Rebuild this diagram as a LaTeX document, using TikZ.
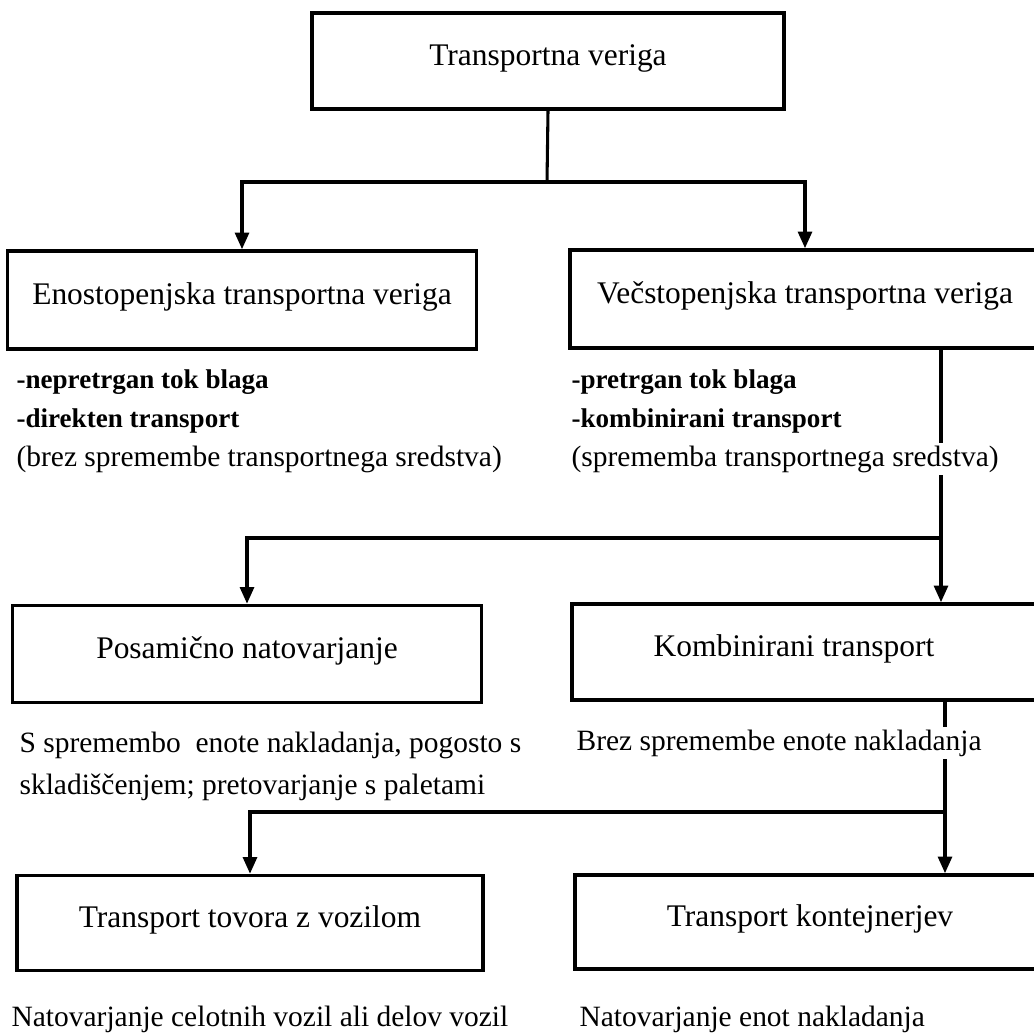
\documentclass[tikz,border=0pt]{standalone}
\usepackage{fontspec}
\setmainfont{Liberation Serif}
\usetikzlibrary{arrows.meta}
\begin{document}
\begin{tikzpicture}[x=0.75pt,y=-0.75pt,
  box/.style={draw, line width=2.7pt, inner sep=0pt,
    font=\fontsize{23.6}{28}\selectfont, text height=0.92em, text depth=0.22em},
  boxtext/.style={inner sep=0pt, font=\fontsize{23.6}{28}\selectfont, text height=0.92em, text depth=0.22em},
  conn/.style={line width=2.3pt},
  arr/.style={line width=2.3pt, -{Triangle[length=12.5pt,width=10.5pt]}},
  listtext/.style={anchor=base west, fill=white, inner xsep=1pt, inner ysep=2pt,
    font=\fontsize{22.1}{26}\selectfont},
  listbold/.style={listtext, font=\fontsize{20.3}{24}\selectfont\bfseries}
]
\path[use as bounding box] (0,0) rectangle (1034,1032);
\clip (0,0) rectangle (1034,1032);
\fill[white] (0,0) rectangle (1034,1032);

% boxes
\node[box, minimum width=472*0.75pt, minimum height=96*0.75pt] (top) at (548,61) {Transportna veriga};
\node[box, minimum width=469*0.75pt, minimum height=98*0.75pt] (enos) at (242,300) {Enostopenjska transportna veriga};
\node[box, minimum width=470*0.75pt, minimum height=98*0.75pt] (vecs) at (805,299) {Večstopenjska transportna veriga};
\node[box, minimum width=469*0.75pt, minimum height=97*0.75pt] (posam) at (247,654) {Posamično natovarjanje};
\node[box, minimum width=468*0.75pt, minimum height=96*0.75pt] (komb) at (806,652) {};
\node[boxtext] (kombtext) at (794,652) {Kombinirani transport};
\node[box, minimum width=466*0.75pt, minimum height=95*0.75pt] (tovora) at (250,923) {Transport tovora z vozilom};
\node[box, minimum width=470*0.75pt, minimum height=94*0.75pt] (kont) at (810,922) {Transport kontejnerjev};

% junctions
\coordinate (j1) at (547,182);
\coordinate (j2) at (941,538);
\coordinate (j3) at (945,812);

% connectors
\draw[conn] (top.south) -- (j1);
\draw[arr] (j1) -| (enos.north);
\draw[arr] (j1) -| (vecs.north);
\draw[conn] (vecs.south -| j2) -- (j2);
\draw[arr] (j2) -- (komb.north -| j2);
\draw[arr] (j2) -| (posam.north);
\draw[conn] (komb.south -| j3) -- (j3);
\draw[arr] (j3) -- (kont.north -| j3);
\draw[arr] (j3) -| (tovora.north);

% texts
\node[listbold] (l1) at (15,388) {-nepretrgan tok blaga};
\node[listbold] (l2) at (15,427) {-direkten transport};
\node[listtext] (l3) at (15,466) {(brez spremembe transportnega sredstva)};
\node[listbold] (r1) at (570,388) {-pretrgan tok blaga};
\node[listbold] (r2) at (570,427) {-kombinirani transport};
\node[listtext] (r3) at (570,466) {(sprememba transportnega sredstva)};
\node[listtext] (m1) at (18,752) {S spremembo\ \ enote nakladanja, pogosto s};
\node[listtext] (m2) at (18,794) {skladiščenjem; pretovarjanje s paletami};
\node[listtext] (m3) at (575,750) {Brez spremembe enote nakladanja};
\node[listtext] (b1) at (10,1026) {Natovarjanje celotnih vozil ali delov vozil};
\node[listtext] (b2) at (578,1026) {Natovarjanje enot nakladanja};
\end{tikzpicture}
\end{document}
